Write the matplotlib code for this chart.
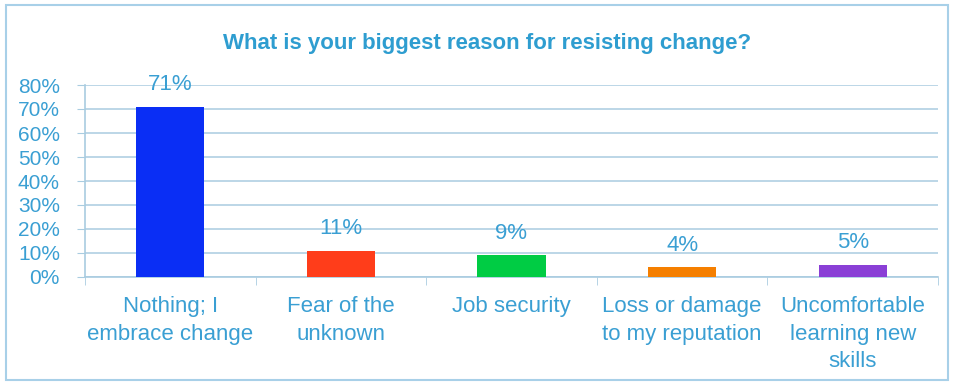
import matplotlib.pyplot as plt
from matplotlib.patches import Rectangle

plt.rcParams['font.family'] = ['Liberation Sans', 'DejaVu Sans']

TEXT = '#3A9FD3'
GRID = '#A9CCE0'

categories = ['Nothing; I\nembrace change', 'Fear of the\nunknown', 'Job security',
              'Loss or damage\nto my reputation', 'Uncomfortable\nlearning new\nskills']
values = [71, 11, 9, 4, 5]
labels = ['71%', '11%', '9%', '4%', '5%']
colors = ['#0A2EF5', '#FF3D1A', '#00CC44', '#F57F00', '#8A3FD6']
yticks = [0, 10, 20, 30, 40, 50, 60, 70, 80]

fig = plt.figure(figsize=(9.57, 3.83), dpi=100)
fig.patches.append(Rectangle((6/957, 3/383), 942/957, 375/383, transform=fig.transFigure,
                             fill=False, edgecolor='#A8D0E8', linewidth=1.5))
ax = fig.add_axes([85/957, 106/383, 853/957, 192/383])

x = list(range(len(values)))
ax.bar(x, values, width=0.4, color=colors, zorder=3)
for xi, v, lab in zip(x, values, labels):
    ax.annotate(lab, (xi, v), xytext=(0, 22), textcoords='offset pixels',
                ha='center', va='center', fontsize=16, color=TEXT, zorder=4)

ax.set_xlim(-0.5, len(values) - 0.5)
ax.set_ylim(0, 80)
ax.set_yticks(yticks)
ax.set_yticklabels([f'{t}%' for t in yticks])
ax.yaxis.grid(True, color=GRID, linewidth=1.1, zorder=0)

ax.set_xticks(x)
ax.set_xticklabels(categories, fontsize=16, color=TEXT, linespacing=1.4, va='top')
ax.set_xticks([i - 0.5 for i in range(len(values) + 1)], minor=True)
ax.tick_params(axis='x', which='major', length=0, pad=14)
ax.tick_params(axis='x', which='minor', length=6, color=GRID, direction='out')
ax.tick_params(axis='y', length=6, color=GRID, labelsize=15, labelcolor=TEXT, pad=12)

for s in ['top', 'right']:
    ax.spines[s].set_visible(False)
for s in ['left', 'bottom']:
    ax.spines[s].set_color(GRID)
    ax.spines[s].set_linewidth(1.2)

fig.text(487/957, 1 - 44/383, 'What is your biggest reason for resisting change?',
         ha='center', va='center', fontsize=16, fontweight='bold', color='#2E9DD0')

fig.savefig('out.png', dpi=100)
